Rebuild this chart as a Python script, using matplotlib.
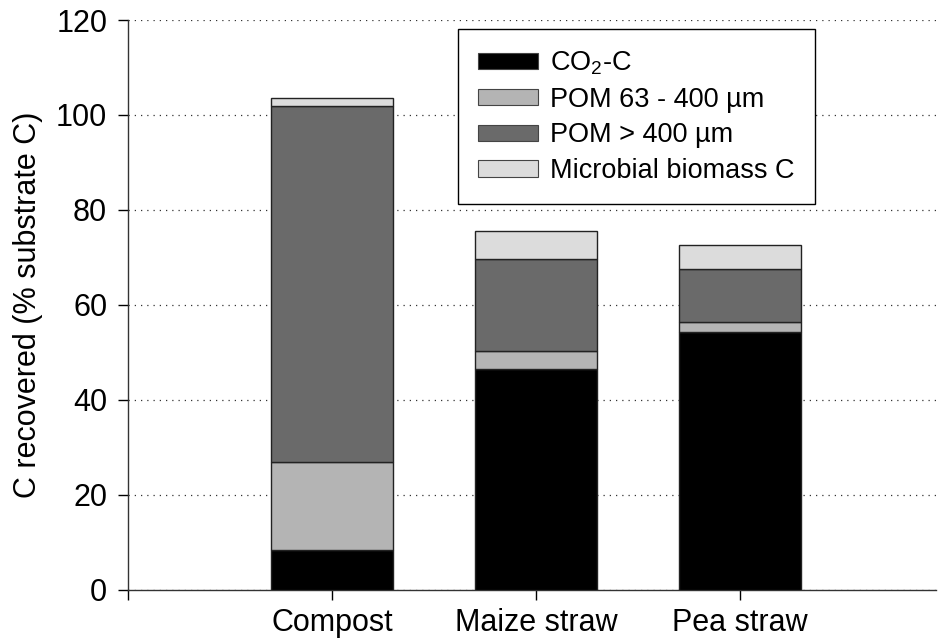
import matplotlib
matplotlib.use("Agg")
import matplotlib.pyplot as plt
from matplotlib.patches import Patch

plt.rcParams['font.family'] = ['Liberation Sans', 'DejaVu Sans']
plt.rcParams['mathtext.fontset'] = 'custom'
plt.rcParams['mathtext.rm'] = 'Liberation Sans'
plt.rcParams['mathtext.it'] = 'Liberation Sans'

substrates = ["Compost", "Maize straw", "Pea straw"]
co2_c = [8.4, 46.5, 54.3]
pom_63_400 = [18.5, 3.8, 2.1]
pom_gt_400 = [75.0, 19.4, 11.2]
microbial_c = [1.7, 5.9, 5.0]

series = [
    ("CO$_2$-C", co2_c, "#000000"),
    ("POM 63 - 400 µm", pom_63_400, "#b4b4b4"),
    ("POM > 400 µm", pom_gt_400, "#6a6a6a"),
    ("Microbial biomass C", microbial_c, "#dcdcdc"),
]

fig = plt.figure(figsize=(9.39, 6.39), dpi=100)
ax = fig.add_axes([0.1363, 0.0767, 0.8607, 0.892])

x = [1, 2, 3]
bottom = [0.0, 0.0, 0.0]
for label, vals, color in series:
    ax.bar(x, vals, width=0.6, bottom=bottom, color=color,
           edgecolor="#222222", linewidth=1.0, zorder=3)
    bottom = [b + v for b, v in zip(bottom, vals)]

ax.set_xlim(0, 3.96)
ax.set_ylim(0, 120)
ax.set_yticks(range(0, 121, 20))
ax.set_xticks(x)
ax.set_xticklabels(substrates, fontsize=22)
ax.tick_params(axis='x', direction='out', length=7, width=1, pad=6)
ax.tick_params(axis='y', direction='out', length=7, width=1, labelsize=22, pad=8)
ax.set_xticks([0], minor=True)
ax.tick_params(axis='x', which='minor', length=7, width=1, direction='out')

ax.set_ylabel("C recovered (% substrate C)", fontsize=22, labelpad=9)

ax.spines['top'].set_visible(False)
ax.spines['right'].set_visible(False)
for s in ('left', 'bottom'):
    ax.spines[s].set_linewidth(1.0)
    ax.spines[s].set_color("#333333")

ax.yaxis.grid(True, linestyle=(0, (1, 4)), color="#333333", linewidth=0.9, zorder=0)
ax.set_axisbelow(True)

handles = [Patch(facecolor=c, edgecolor="#444444", linewidth=0.8, label=l) for l, _, c in series]
leg = ax.legend(handles=handles, loc='upper left', bbox_to_anchor=(0.408, 0.984),
                borderaxespad=0, fontsize=19.5, frameon=True, fancybox=False,
                handlelength=2.2, handleheight=0.55, labelspacing=0.36,
                handletextpad=0.45, borderpad=0.75)
leg.get_frame().set_edgecolor("#000000")
leg.get_frame().set_linewidth(1.0)
leg.get_frame().set_alpha(1)

fig.savefig("out.png", dpi=100)
